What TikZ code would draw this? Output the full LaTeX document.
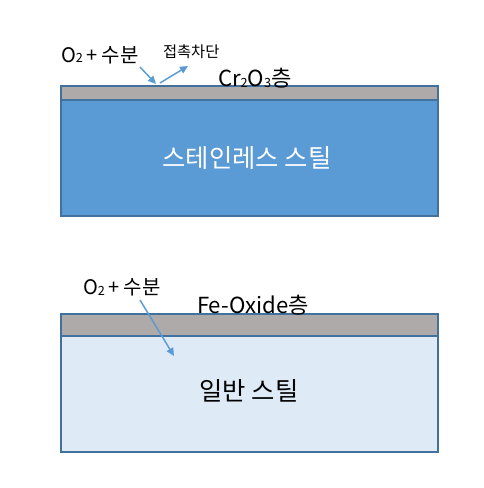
\documentclass[tikz,border=0pt]{standalone}
\usepackage{fontspec}
\setmainfont{Noto Sans CJK KR}
\usetikzlibrary{arrows.meta}
\definecolor{steelblue}{HTML}{5B9BD5}
\definecolor{edgeblue}{HTML}{41719C}
\definecolor{oxgray}{HTML}{AEAAAA}
\definecolor{paleblue}{HTML}{DEEBF7}
\newcommand{\fsz}[1]{\fontsize{#1}{#1}\selectfont}
\newcommand{\sub}[1]{{\fsz{9.5pt}\raisebox{-0.6pt}{#1}}}
\begin{document}
\begin{tikzpicture}[x=0.75pt,y=-0.75pt,
  layer/.style={draw=edgeblue,line width=0.8pt,inner sep=0,outer sep=0,anchor=north west},
  lbl/.style={inner sep=0,outer sep=0},
  flow/.style={draw=steelblue,line width=1.1pt,-{Triangle[length=6pt,width=5.5pt]}}]
\useasboundingbox (0,0) rectangle (483,488);
% top sample
\node[layer,fill=steelblue,minimum width=377*0.75pt,minimum height=116*0.75pt] (ss) at (61,100) {};
\node[layer,fill=oxgray,minimum width=377*0.75pt,minimum height=14*0.75pt] (cr) at (61,86) {};
\node[lbl,text=white,font=\fsz{19pt}] (sst) at (247,158) {스테인레스 스틸};
\node[lbl,anchor=west,font=\fsz{15pt}] (o2a) at (61,55) {O\sub{2}\,+ 수분};
\node[lbl,anchor=west,font=\fsz{11.5pt}] (blk) at (163,52) {접촉차단};
\node[lbl,anchor=west,font=\fsz{16.6pt}] (crl) at (218,78) {Cr\sub{2}O\sub{3}층};
\coordinate (a1s) at (140,67);
\coordinate (a1e) at (156,84);
\coordinate (a2s) at (160,83);
\coordinate (a2e) at (188,66);
\draw[flow] (a1s) -- (a1e);
\draw[flow] (a2s) -- (a2e);
% bottom sample
\node[layer,fill=paleblue,minimum width=377*0.75pt,minimum height=116*0.75pt] (ms) at (61,336) {};
\node[layer,fill=oxgray,minimum width=377*0.75pt,minimum height=22*0.75pt] (fe) at (61,314) {};
\node[lbl,font=\fsz{19pt}] (mst) at (249,391) {일반 스틸};
\node[lbl,anchor=west,font=\fsz{15pt}] (o2b) at (83,287) {O\sub{2}\,+ 수분};
\node[lbl,anchor=west,font=\fsz{16.6pt}] (fel) at (197,305) {Fe-Oxide층};
\coordinate (a3s) at (140,300);
\coordinate (a3e) at (174,356);
\draw[flow] (a3s) -- (a3e);
\end{tikzpicture}
\end{document}
